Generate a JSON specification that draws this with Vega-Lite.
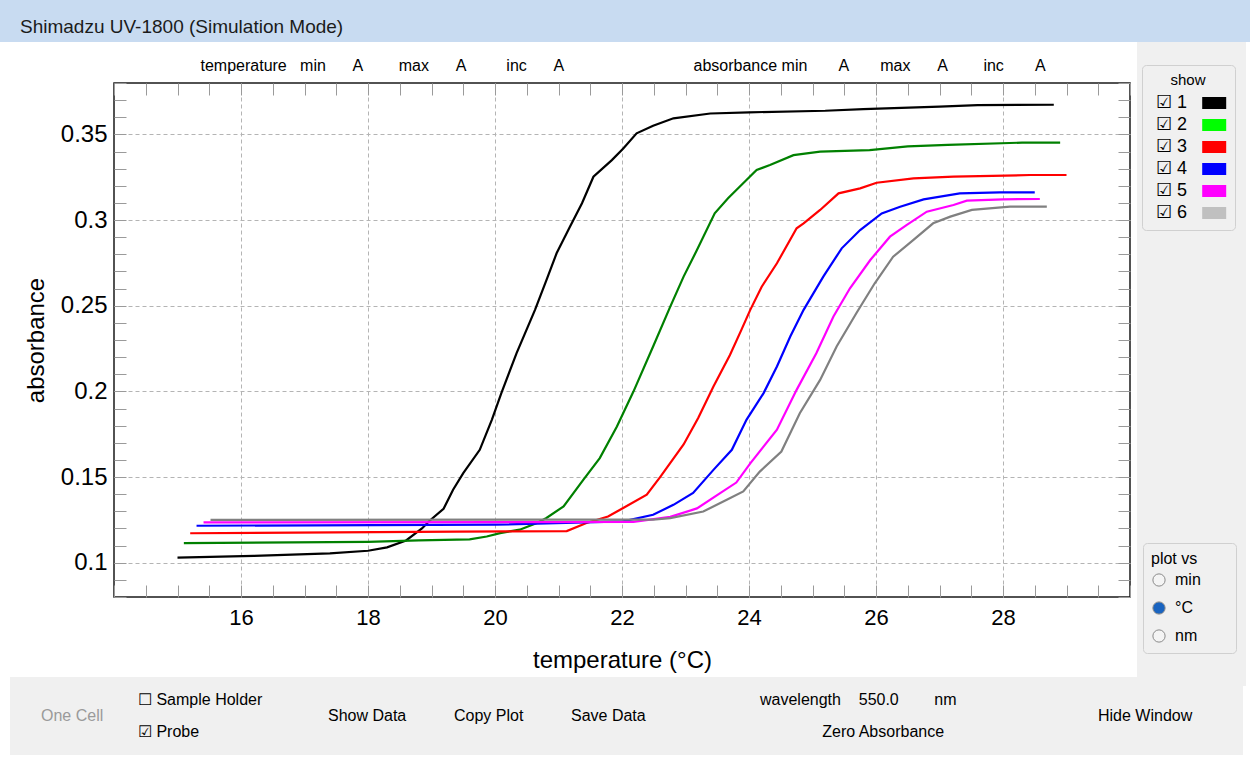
{
  "$schema": "https://vega.github.io/schema/vega-lite/v6.json",
  "width": 1016,
  "height": 514,
  "autosize": {"type": "none"},
  "padding": {"left": 114, "top": 83, "right": 121, "bottom": 161},
  "background": "#ffffff",
  "config": {
    "view": {"stroke": "#1a1a1a", "strokeWidth": 1.5},
    "font": "Liberation Sans"
  },
  "datasets": {
    "curves": [
      {"s": "1", "t": 15.0, "a": 0.1030}, {"s": "1", "t": 16.2, "a": 0.1040}, {"s": "1", "t": 17.4, "a": 0.1055},
      {"s": "1", "t": 18.0, "a": 0.1070}, {"s": "1", "t": 18.3, "a": 0.1090}, {"s": "1", "t": 18.6, "a": 0.1130},
      {"s": "1", "t": 18.85, "a": 0.1200}, {"s": "1", "t": 18.97, "a": 0.1245}, {"s": "1", "t": 19.19, "a": 0.1315},
      {"s": "1", "t": 19.34, "a": 0.1426}, {"s": "1", "t": 19.5, "a": 0.1523}, {"s": "1", "t": 19.76, "a": 0.1659},
      {"s": "1", "t": 19.95, "a": 0.1834}, {"s": "1", "t": 20.1, "a": 0.1990}, {"s": "1", "t": 20.34, "a": 0.2223},
      {"s": "1", "t": 20.63, "a": 0.2476}, {"s": "1", "t": 20.81, "a": 0.2650}, {"s": "1", "t": 20.97, "a": 0.2806},
      {"s": "1", "t": 21.18, "a": 0.2961}, {"s": "1", "t": 21.37, "a": 0.3098}, {"s": "1", "t": 21.55, "a": 0.3253},
      {"s": "1", "t": 21.84, "a": 0.3350}, {"s": "1", "t": 22.02, "a": 0.3418}, {"s": "1", "t": 22.23, "a": 0.3506},
      {"s": "1", "t": 22.49, "a": 0.3550}, {"s": "1", "t": 22.81, "a": 0.3594}, {"s": "1", "t": 23.39, "a": 0.3622},
      {"s": "1", "t": 24.0, "a": 0.3629}, {"s": "1", "t": 25.2, "a": 0.3638}, {"s": "1", "t": 25.8, "a": 0.3648},
      {"s": "1", "t": 27.0, "a": 0.3662}, {"s": "1", "t": 27.6, "a": 0.3671}, {"s": "1", "t": 28.8, "a": 0.3673},

      {"s": "2", "t": 15.1, "a": 0.1115}, {"s": "2", "t": 18.0, "a": 0.1122}, {"s": "2", "t": 18.8, "a": 0.1130},
      {"s": "2", "t": 19.6, "a": 0.1136}, {"s": "2", "t": 19.87, "a": 0.1153}, {"s": "2", "t": 20.08, "a": 0.1173},
      {"s": "2", "t": 20.39, "a": 0.1193}, {"s": "2", "t": 20.66, "a": 0.1232}, {"s": "2", "t": 20.81, "a": 0.1261},
      {"s": "2", "t": 21.08, "a": 0.1329}, {"s": "2", "t": 21.39, "a": 0.1484}, {"s": "2", "t": 21.65, "a": 0.1611},
      {"s": "2", "t": 21.92, "a": 0.1795}, {"s": "2", "t": 22.18, "a": 0.1999}, {"s": "2", "t": 22.49, "a": 0.2262},
      {"s": "2", "t": 22.76, "a": 0.2495}, {"s": "2", "t": 22.97, "a": 0.2670}, {"s": "2", "t": 23.18, "a": 0.2825},
      {"s": "2", "t": 23.46, "a": 0.3039}, {"s": "2", "t": 23.67, "a": 0.3127}, {"s": "2", "t": 23.96, "a": 0.3234},
      {"s": "2", "t": 24.12, "a": 0.3292}, {"s": "2", "t": 24.33, "a": 0.3321}, {"s": "2", "t": 24.7, "a": 0.3379},
      {"s": "2", "t": 25.12, "a": 0.3399}, {"s": "2", "t": 25.9, "a": 0.3408}, {"s": "2", "t": 26.5, "a": 0.3430},
      {"s": "2", "t": 27.13, "a": 0.3439}, {"s": "2", "t": 28.3, "a": 0.3452}, {"s": "2", "t": 28.9, "a": 0.3452},

      {"s": "3", "t": 15.2, "a": 0.1172}, {"s": "3", "t": 19.4, "a": 0.1181}, {"s": "3", "t": 21.13, "a": 0.1185},
      {"s": "3", "t": 21.44, "a": 0.1232}, {"s": "3", "t": 21.78, "a": 0.1270}, {"s": "3", "t": 21.97, "a": 0.1309},
      {"s": "3", "t": 22.39, "a": 0.1397}, {"s": "3", "t": 22.6, "a": 0.1500}, {"s": "3", "t": 22.97, "a": 0.1690},
      {"s": "3", "t": 23.2, "a": 0.1845}, {"s": "3", "t": 23.44, "a": 0.2028}, {"s": "3", "t": 23.7, "a": 0.2213},
      {"s": "3", "t": 23.88, "a": 0.2359}, {"s": "3", "t": 24.02, "a": 0.2476}, {"s": "3", "t": 24.2, "a": 0.2611},
      {"s": "3", "t": 24.44, "a": 0.2748}, {"s": "3", "t": 24.75, "a": 0.2952}, {"s": "3", "t": 24.86, "a": 0.2981},
      {"s": "3", "t": 25.12, "a": 0.3059}, {"s": "3", "t": 25.41, "a": 0.3156}, {"s": "3", "t": 25.75, "a": 0.3185},
      {"s": "3", "t": 26.01, "a": 0.3218}, {"s": "3", "t": 26.59, "a": 0.3243}, {"s": "3", "t": 27.22, "a": 0.3253},
      {"s": "3", "t": 28.43, "a": 0.3263}, {"s": "3", "t": 29.0, "a": 0.3263},

      {"s": "4", "t": 15.3, "a": 0.1216}, {"s": "4", "t": 20.0, "a": 0.1222}, {"s": "4", "t": 22.02, "a": 0.1241},
      {"s": "4", "t": 22.49, "a": 0.1280}, {"s": "4", "t": 22.81, "a": 0.1338}, {"s": "4", "t": 23.12, "a": 0.1407},
      {"s": "4", "t": 23.44, "a": 0.1542}, {"s": "4", "t": 23.73, "a": 0.1659}, {"s": "4", "t": 23.96, "a": 0.1834},
      {"s": "4", "t": 24.23, "a": 0.1990}, {"s": "4", "t": 24.44, "a": 0.2145}, {"s": "4", "t": 24.65, "a": 0.2320},
      {"s": "4", "t": 24.86, "a": 0.2476}, {"s": "4", "t": 25.17, "a": 0.2670}, {"s": "4", "t": 25.46, "a": 0.2835},
      {"s": "4", "t": 25.75, "a": 0.2942}, {"s": "4", "t": 26.09, "a": 0.3039}, {"s": "4", "t": 26.38, "a": 0.3078},
      {"s": "4", "t": 26.75, "a": 0.3121}, {"s": "4", "t": 27.32, "a": 0.3156}, {"s": "4", "t": 27.95, "a": 0.3162},
      {"s": "4", "t": 28.5, "a": 0.3162},

      {"s": "5", "t": 15.41, "a": 0.1235}, {"s": "5", "t": 22.18, "a": 0.1238}, {"s": "5", "t": 22.76, "a": 0.1268},
      {"s": "5", "t": 23.18, "a": 0.1317}, {"s": "5", "t": 23.54, "a": 0.1405}, {"s": "5", "t": 23.8, "a": 0.1468},
      {"s": "5", "t": 24.02, "a": 0.1580}, {"s": "5", "t": 24.44, "a": 0.1776}, {"s": "5", "t": 24.75, "a": 0.2009},
      {"s": "5", "t": 25.06, "a": 0.2223}, {"s": "5", "t": 25.33, "a": 0.2437}, {"s": "5", "t": 25.59, "a": 0.2602},
      {"s": "5", "t": 25.91, "a": 0.2767}, {"s": "5", "t": 26.22, "a": 0.2903}, {"s": "5", "t": 26.48, "a": 0.2971},
      {"s": "5", "t": 26.8, "a": 0.3049}, {"s": "5", "t": 27.22, "a": 0.3088}, {"s": "5", "t": 27.43, "a": 0.3113},
      {"s": "5", "t": 28.0, "a": 0.3121}, {"s": "5", "t": 28.58, "a": 0.3123},

      {"s": "6", "t": 15.52, "a": 0.1250}, {"s": "6", "t": 22.49, "a": 0.1252}, {"s": "6", "t": 22.76, "a": 0.1260},
      {"s": "6", "t": 23.28, "a": 0.1299}, {"s": "6", "t": 23.65, "a": 0.1367}, {"s": "6", "t": 23.91, "a": 0.1416},
      {"s": "6", "t": 24.17, "a": 0.1532}, {"s": "6", "t": 24.51, "a": 0.1649}, {"s": "6", "t": 24.8, "a": 0.1873},
      {"s": "6", "t": 25.12, "a": 0.2067}, {"s": "6", "t": 25.38, "a": 0.2262}, {"s": "6", "t": 25.69, "a": 0.2456},
      {"s": "6", "t": 25.98, "a": 0.2631}, {"s": "6", "t": 26.27, "a": 0.2786}, {"s": "6", "t": 26.59, "a": 0.2884},
      {"s": "6", "t": 26.9, "a": 0.2981}, {"s": "6", "t": 27.17, "a": 0.3020}, {"s": "6", "t": 27.51, "a": 0.3059},
      {"s": "6", "t": 28.11, "a": 0.3078}, {"s": "6", "t": 28.69, "a": 0.3078}
    ],
    "window": [{"win": "Shimadzu UV-1800 (Simulation Mode)"}],
    "plotvs": [{"opt": "min"}, {"opt": "°C"}, {"opt": "nm"}],
    "controls": [
      {"label": "_0"},
      {"label": "_1"},
      {"label": "\u2610 Sample Holder\u00a0\u00a0\u00a0\u00a0\u00a0\u00a0\u00a0\u00a0\u00a0\u00a0\u00a0\u200b"},
      {"label": "_2"},
      {"label": "_3"},
      {"label": "_4"},
      {"label": "wavelength\u00a0\u00a0\u00a0\u00a0550.0\u00a0\u00a0\u00a0\u00a0\u00a0\u00a0\u00a0\u00a0nm\u00a0\u00a0\u00a0\u00a0\u00a0\u00a0\u00a0\u00a0\u00a0\u00a0\u00a0\u00a0\u00a0\u00a0\u00a0\u00a0\u00a0\u00a0\u00a0\u00a0\u00a0\u00a0\u00a0\u00a0\u00a0\u00a0\u00a0\u00a0\u200b"},
      {"label": "_5"},
      {"label": "One Cell\u00a0\u00a0\u00a0\u00a0\u200b"},
      {"label": "_6"},
      {"label": "Show Data\u00a0\u00a0\u00a0\u00a0\u00a0\u00a0\u00a0\u200b"},
      {"label": "Copy Plot\u00a0\u00a0\u00a0\u00a0\u00a0\u00a0\u00a0\u200b"},
      {"label": "Save Data\u00a0\u00a0\u00a0\u00a0\u00a0\u00a0\u00a0\u00a0\u00a0\u00a0\u00a0\u00a0\u00a0\u00a0\u00a0\u00a0\u00a0\u00a0\u00a0\u00a0\u00a0\u00a0\u200b"},
      {"label": "_7"},
      {"label": "Hide Window\u00a0\u00a0\u00a0\u00a0\u00a0\u00a0\u00a0\u00a0\u200b"},
      {"label": "_8"},
      {"label": "\u2611 Probe"},
      {"label": "_9"},
      {"label": "_10"},
      {"label": "_11"},
      {"label": "\u200b\u00a0\u00a0\u00a0\u00a0\u00a0\u00a0\u00a0\u00a0\u00a0\u00a0\u00a0\u00a0\u00a0\u00a0Zero Absorbance"},
      {"label": "_12"}
    ]
  },
  "layer": [
    {
      "data": {"name": "curves"},
      "mark": {"type": "line", "strokeWidth": 2.2},
      "encoding": {
        "x": {
          "field": "t", "type": "quantitative",
          "scale": {"domain": [14, 30], "nice": false, "zero": false},
          "axis": {
            "orient": "bottom",
            "values": [14,14.5,15,15.5,16,16.5,17,17.5,18,18.5,19,19.5,20,20.5,21,21.5,22,22.5,23,23.5,24,24.5,25,25.5,26,26.5,27,27.5,28,28.5,29,29.5,30],
            "labelExpr": "(datum.value % 2 === 0 && datum.value > 15 && datum.value < 29) ? toString(datum.value) : ''",
            "labelOverlap": false, "labelFlush": false,
            "labelFont": "Liberation Sans", "labelFontSize": 22, "labelColor": "#000000", "labelPadding": 22,
            "tickSize": -12, "tickColor": "#9a9a9a", "tickWidth": 1,
            "domain": false,
            "grid": true, "gridColor": "#b4b4b4", "gridDash": [4, 3], "gridWidth": 1,
            "gridOpacity": {"condition": {"test": "datum.value % 2 !== 0 || datum.value < 15 || datum.value > 29", "value": 0}, "value": 1},
            "title": "temperature (°C)",
            "titleFont": "Liberation Sans", "titleFontSize": 24, "titleFontWeight": "normal", "titleColor": "#000000", "titlePadding": 20
          }
        },
        "y": {
          "field": "a", "type": "quantitative",
          "scale": {"domain": [0.08, 0.38], "nice": false, "zero": false},
          "axis": {
            "orient": "left",
            "values": [0.08,0.09,0.1,0.11,0.12,0.13,0.14,0.15,0.16,0.17,0.18,0.19,0.2,0.21,0.22,0.23,0.24,0.25,0.26,0.27,0.28,0.29,0.3,0.31,0.32,0.33,0.34,0.35,0.36,0.37,0.38],
            "labelExpr": "(round(datum.value*100) % 5 === 0 && datum.value > 0.095 && datum.value < 0.355) ? toString(round(datum.value*100)/100) : ''",
            "labelOverlap": false, "labelFlush": false,
            "labelFont": "Liberation Sans", "labelFontSize": 24, "labelColor": "#000000", "labelPadding": 19,
            "tickSize": -12, "tickColor": "#9a9a9a", "tickWidth": 1,
            "domain": false,
            "grid": true, "gridColor": "#b4b4b4", "gridDash": [4, 3], "gridWidth": 1,
            "gridOpacity": {"condition": {"test": "round(datum.value*100) % 5 !== 0 || datum.value < 0.095 || datum.value > 0.355", "value": 0}, "value": 1},
            "title": "absorbance",
            "titleFont": "Liberation Sans", "titleFontSize": 24, "titleFontWeight": "normal", "titleColor": "#000000", "titlePadding": 12
          }
        },
        "stroke": {
          "field": "s", "type": "nominal",
          "scale": {"range": ["#000000", "#008000", "#ff0000", "#0000ff", "#ff00ff", "#808080"]},
          "legend": null
        }
      }
    },
    {
      "data": {"name": "curves"},
      "transform": [{"filter": "false"}],
      "mark": {"type": "point", "filled": true, "opacity": 1},
      "encoding": {
        "x": {
          "field": "t", "type": "quantitative",
          "axis": {
            "orient": "top",
            "values": [14,14.5,15,15.5,16,16.5,17,17.5,18,18.5,19,19.5,20,20.5,21,21.5,22,22.5,23,23.5,24,24.5,25,25.5,26,26.5,27,27.5,28,28.5,29,29.5,30],
            "labels": false, "grid": false, "domain": false,
            "tickSize": -12, "tickColor": "#9a9a9a", "tickWidth": 1,
            "title": "temperature\u00a0\u00a0\u00a0min\u00a0\u00a0\u00a0\u00a0\u00a0\u00a0A\u00a0\u00a0\u00a0\u00a0\u00a0\u00a0\u00a0\u00a0max\u00a0\u00a0\u00a0\u00a0\u00a0\u00a0A\u00a0\u00a0\u00a0\u00a0\u00a0\u00a0\u00a0\u00a0\u00a0inc\u00a0\u00a0\u00a0\u00a0\u00a0\u00a0A",
            "titleX": 86, "titleY": -18, "titleAngle": 0, "titleAlign": "left", "titleBaseline": "middle",
            "titleFont": "Liberation Sans", "titleFontSize": 16, "titleFontWeight": "normal", "titleColor": "#000000"
          }
        },
        "y": {
          "field": "a", "type": "quantitative",
          "axis": {
            "orient": "right",
            "values": [0.08,0.09,0.1,0.11,0.12,0.13,0.14,0.15,0.16,0.17,0.18,0.19,0.2,0.21,0.22,0.23,0.24,0.25,0.26,0.27,0.28,0.29,0.3,0.31,0.32,0.33,0.34,0.35,0.36,0.37,0.38],
            "labels": false, "grid": false, "domain": false,
            "tickSize": -12, "tickColor": "#9a9a9a", "tickWidth": 1,
            "title": "absorbance min\u00a0\u00a0\u00a0\u00a0\u00a0\u00a0\u00a0A\u00a0\u00a0\u00a0\u00a0\u00a0\u00a0\u00a0max\u00a0\u00a0\u00a0\u00a0\u00a0\u00a0A\u00a0\u00a0\u00a0\u00a0\u00a0\u00a0\u00a0\u00a0inc\u00a0\u00a0\u00a0\u00a0\u00a0\u00a0\u00a0A",
            "titleX": -437, "titleY": -18, "titleAngle": 0, "titleAlign": "left", "titleBaseline": "middle",
            "titleFont": "Liberation Sans", "titleFontSize": 16, "titleFontWeight": "normal", "titleColor": "#000000"
          }
        },
        "fill": {
          "field": "s", "type": "nominal",
          "scale": {"domain": ["1", "2", "3", "4", "5", "6"], "range": ["#000000", "#00ff00", "#ff0000", "#0000ff", "#ff00ff", "#c0c0c0"]},
          "legend": {
            "title": "show", "orient": "none", "legendX": 1028, "legendY": -18, "zindex": 1,
            "titleAnchor": "middle", "titleFont": "Liberation Sans", "titleFontSize": 15, "titleFontWeight": "normal", "titleColor": "#000000", "titlePadding": 6,
            "labelFont": "Liberation Sans", "labelFontSize": 18, "labelColor": "#000000",
            "labelExpr": "'\u2611 ' + datum.label",
            "symbolType": "M7.2,-1H11.2V1H7.2Z", "symbolSize": 144, "symbolStrokeWidth": 0, "symbolOpacity": 1,
            "labelOffset": -12, "rowPadding": 4, "padding": 8,
            "fillColor": "#f0f0f0", "strokeColor": "#d0d0d0", "cornerRadius": 4
          }
        }
      }
    },
    {
      "data": {"name": "plotvs"},
      "transform": [{"filter": "false"}],
      "mark": {"type": "point", "filled": true, "opacity": 1, "stroke": "#8a8a8a", "strokeWidth": 1},
      "encoding": {
        "color": {
          "field": "opt", "type": "nominal",
          "scale": {"domain": ["min", "°C", "nm"], "range": ["#f4f4f4", "#1a64c0", "#f4f4f4"]},
          "legend": {
            "title": "plot vs", "orient": "none", "legendX": 1029, "legendY": 460, "zindex": 1,
            "titleAnchor": "start", "titleFont": "Liberation Sans", "titleFontSize": 16, "titleFontWeight": "normal", "titleColor": "#000000",
            "labelFont": "Liberation Sans", "labelFontSize": 16, "labelColor": "#000000",
            "labelExpr": "datum.label + '\u00a0\u00a0\u00a0\u00a0\u00a0\u00a0\u200b'",
            "symbolType": "circle", "symbolSize": 150, "symbolStrokeColor": "#8a8a8a", "symbolStrokeWidth": 1, "symbolOpacity": 1,
            "labelOffset": 8, "rowPadding": 10, "padding": 8,
            "fillColor": "#f0f0f0", "strokeColor": "#d0d0d0", "cornerRadius": 4
          }
        }
      }
    },
    {
      "data": {"name": "plotvs"},
      "mark": {"type": "point", "opacity": 0},
      "encoding": {
        "strokeDash": {
          "field": "opt", "type": "nominal",
          "legend": {
            "title": null, "orient": "none", "legendX": 1023, "legendY": -41, "zindex": 0,
            "padding": 0, "symbolSize": 1, "symbolOpacity": 0, "labelFontSize": 16, "labelLimit": 600,
            "labelExpr": "'\u200b' + pad('', 20, '\u00a0', 'right') + '\u200b'",
            "rowPadding": 298, "fillColor": "#f0f0f0"
          }
        }
      }
    },
    {
      "data": {"name": "window"},
      "mark": {"type": "point", "opacity": 0},
      "encoding": {
        "shape": {
          "field": "win", "type": "nominal",
          "legend": {
            "title": null,
            "orient": "none", "legendX": -116, "legendY": -90, "zindex": 1,
            "padding": 4, "fillColor": "#c8dbf1",
            "symbolSize": 1600, "symbolOpacity": 0,
            "labelBaseline": "top", "labelOffset": -24,
            "labelFont": "Liberation Sans", "labelFontSize": 19, "labelColor": "#1b1b1b", "labelLimit": 3000,
            "labelExpr": "pad(datum.label, 205, '\u00a0', 'right') + '\u200b'"
          }
        }
      }
    },
    {
      "data": {"name": "controls"},
      "mark": {"type": "point"},
      "encoding": {
        "opacity": {
          "field": "label", "type": "nominal",
          "scale": {
            "domain": [
              "_0",
              "_1",
              "\u2610 Sample Holder\u00a0\u00a0\u00a0\u00a0\u00a0\u00a0\u00a0\u00a0\u00a0\u00a0\u00a0\u200b",
              "_2", "_3", "_4",
              "wavelength\u00a0\u00a0\u00a0\u00a0550.0\u00a0\u00a0\u00a0\u00a0\u00a0\u00a0\u00a0\u00a0nm\u00a0\u00a0\u00a0\u00a0\u00a0\u00a0\u00a0\u00a0\u00a0\u00a0\u00a0\u00a0\u00a0\u00a0\u00a0\u00a0\u00a0\u00a0\u00a0\u00a0\u00a0\u00a0\u00a0\u00a0\u00a0\u00a0\u00a0\u00a0\u200b",
              "_5",
              "One Cell\u00a0\u00a0\u00a0\u00a0\u200b",
              "_6",
              "Show Data\u00a0\u00a0\u00a0\u00a0\u00a0\u00a0\u00a0\u200b",
              "Copy Plot\u00a0\u00a0\u00a0\u00a0\u00a0\u00a0\u00a0\u200b",
              "Save Data\u00a0\u00a0\u00a0\u00a0\u00a0\u00a0\u00a0\u00a0\u00a0\u00a0\u00a0\u00a0\u00a0\u00a0\u00a0\u00a0\u00a0\u00a0\u00a0\u00a0\u00a0\u00a0\u200b",
              "_7",
              "Hide Window\u00a0\u00a0\u00a0\u00a0\u00a0\u00a0\u00a0\u00a0\u200b",
              "_8",
              "\u2611 Probe",
              "_9", "_10", "_11",
              "\u200b\u00a0\u00a0\u00a0\u00a0\u00a0\u00a0\u00a0\u00a0\u00a0\u00a0\u00a0\u00a0\u00a0\u00a0Zero Absorbance",
              "_12"
            ],
            "range": [0, 0]
          },
          "legend": {
            "title": null, "orient": "none", "legendX": -104, "legendY": 594, "zindex": 1,
            "direction": "horizontal", "columns": 7, "columnPadding": 0, "rowPadding": -2,
            "symbolSize": 1, "labelOffset": 0, "labelLimit": 600, "padding": 15,
            "fillColor": "#f0f0f0",
            "labelFont": "Liberation Sans", "labelFontSize": 16,
            "labelColor": {"expr": "indexof(datum.label, 'One Cell') === 0 ? '#9a9a9a' : '#000000'"},
            "labelExpr": "slice(datum.label, 0, 1) === '_' ? '' : datum.label"
          }
        }
      }
    }
  ],
  "resolve": {"axis": {"x": "independent", "y": "independent"}}
}
